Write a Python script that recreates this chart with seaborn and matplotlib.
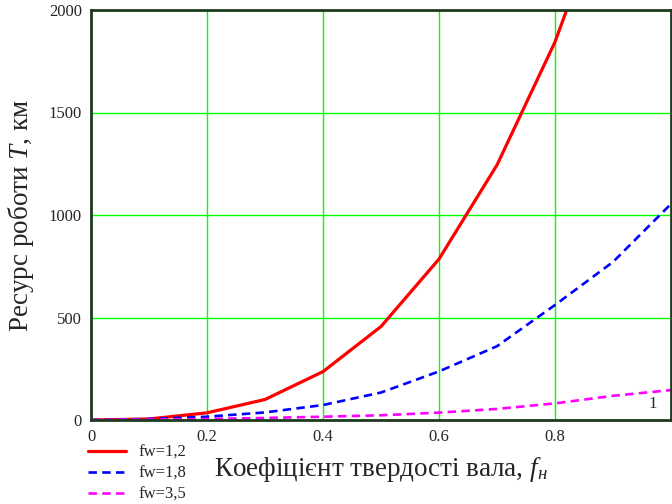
import numpy as np
import pandas as pd
import matplotlib
matplotlib.use("Agg")
import matplotlib.pyplot as plt
import seaborn as sns

# =========================
# Données
# =========================
f_h = [0.0, 0.1, 0.2, 0.3, 0.4, 0.5, 0.6, 0.7, 0.8, 0.9, 1.0]
T_fw12 = [0, 5, 35, 100, 236, 456, 785, 1244, 1844, 2620, 3600]
T_fw18 = [0, 5, 16, 37, 73, 134, 237, 360, 561, 771, 1054]
T_fw35 = [0, 2, 5, 10, 16, 23, 36, 54, 81, 118, 146]
labels = ["fw=1,2", "fw=1,8", "fw=3,5"]
colors = ["#ff0000", "#0000ff", "#ff00ff"]

sns.set_style("white")
plt.rcParams["font.family"] = ["Liberation Serif", "DejaVu Serif"]
plt.rcParams["mathtext.fontset"] = "custom"
plt.rcParams["mathtext.rm"] = "Liberation Serif"
plt.rcParams["mathtext.it"] = "Liberation Serif:italic"

fig = plt.figure(figsize=(6.72, 5.04), dpi=100)
ax = fig.add_axes([91 / 672, 1 - 420 / 504, 580 / 672, 410 / 504])

styles = ["-", (0, (3.2, 2.0)), (0, (3.2, 2.0))]
widths = [2.3, 1.9, 1.9]
for vals, lab, col, ls, lw in zip([T_fw12, T_fw18, T_fw35], labels, colors, styles, widths):
    sns.lineplot(x=f_h, y=vals, ax=ax, color=col, label=lab, linestyle=ls, linewidth=lw)

ax.set_xlim(0, 1.0)
ax.set_ylim(0, 2000)
ax.set_xticks([0, 0.2, 0.4, 0.6, 0.8])
ax.set_xticklabels(["0", "0.2", "0.4", "0.6", "0.8"])
ax.set_yticks([0, 500, 1000, 1500, 2000])
ax.tick_params(length=0, labelsize=12, pad=6.5)
ax.grid(True, color="#00ff00", linewidth=1.0)
ax.set_axisbelow(True)
for sp in ax.spines.values():
    sp.set_color("#1f3a1f")
    sp.set_linewidth(2)

ax.set_xlabel("Коефіцієнт твердості вала, $f_{н}$", fontsize=19.5, labelpad=7)
ax.set_ylabel("Ресурс роботи $T$, км", fontsize=19.5, labelpad=9)
ax.text(0.962, 60, "1", fontsize=12)

handles, labs = ax.get_legend_handles_labels()
ax.get_legend().remove()
fig.legend(handles, labs, loc="upper left", bbox_to_anchor=(88 / 672, 1 - 445 / 504),
           frameon=False, fontsize=12, handlelength=2.3, handletextpad=0.75,
           labelspacing=0.3, borderpad=0, borderaxespad=0)

fig.savefig("out.png", dpi=100)
